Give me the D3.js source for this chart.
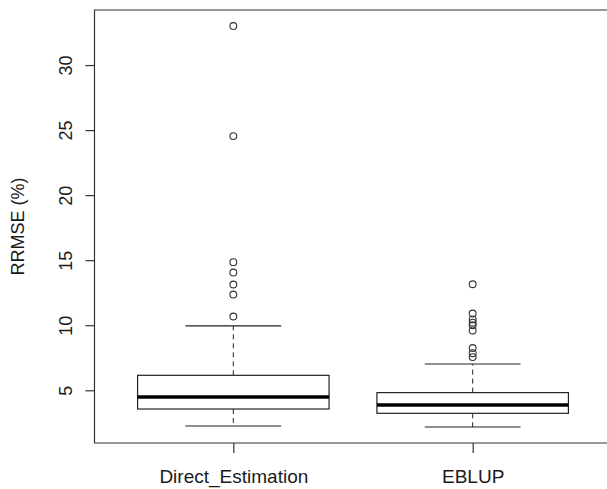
<!DOCTYPE html>
<html>
<head>
<meta charset="utf-8">
<script src="https://cdn.jsdelivr.net/npm/d3@7"></script>
<style>
  html, body { margin: 0; padding: 0; background: #fff; overflow: hidden; }
  svg { display: block; }
  svg text { font-family: "Liberation Sans", Arial, sans-serif; fill: #1a1a1a; }
</style>
</head>
<body>
<div id="chart"></div>
<script>
// groups shown on the x axis
var categories = ["Direct_Estimation", "EBLUP"];
// five-number summaries (whisker low, Q1, median, Q3, whisker high)
var whiskerLow  = [2.25, 2.18];
var q1          = [3.56, 3.23];
var median      = [4.48, 3.87];
var q3          = [6.15, 4.82];
var whiskerHigh = [9.95, 7.02];
// points beyond the whiskers
var outliersDirect = [10.67, 12.36, 13.13, 14.05, 14.85, 24.54, 33.0];
var outliersEblup  = [7.55, 7.85, 8.25, 9.6, 10.0, 10.2, 10.45, 10.9, 13.15];
var yTicks = [5, 10, 15, 20, 25, 30];
var yLabel = "RRMSE (%)";

var W = 607, H = 489;
var svg = d3.select("#chart").append("svg")
    .attr("width", W)
    .attr("height", H);

var allVals = whiskerLow.concat(whiskerHigh, outliersDirect, outliersEblup);
var lo = d3.min(allVals), hi = d3.max(allVals), pad = (hi - lo) * 0.04;

// R style: 4% extension of the data range
var y = d3.scaleLinear()
    .domain([lo - pad, hi + pad])
    .range([443, 10]);

var x = d3.scaleLinear()
    .domain([0.42, 2.58])
    .range([94.5, 611.5]);

// frame: the right side lies outside the picture, so only three sides are drawn
var x0 = x(0.42), x1 = x(2.58), yt = y.range()[1], yb = y.range()[0];
svg.append("path")
    .attr("d", "M" + x1 + "," + yt + "H" + x0 + "V" + yb + "H" + x1)
    .attr("fill", "none")
    .attr("stroke", "#333")
    .attr("stroke-width", 1.2);

// y axis
var yAxis = svg.append("g")
    .attr("transform", "translate(" + x0 + ",0)")
    .call(d3.axisLeft(y).tickValues(yTicks).tickSize(9).tickFormat(d3.format("d")));
yAxis.select(".domain").remove();
yAxis.selectAll("line").attr("stroke", "#333").attr("stroke-width", 1.2);
yAxis.selectAll("text")
    .attr("transform", "rotate(-90)")
    .attr("x", 0)
    .attr("y", -23)
    .attr("dy", 0)
    .attr("text-anchor", "middle")
    .style("font-size", "18px")
    .attr("fill", "#1a1a1a");

// x axis
var xAxis = svg.append("g")
    .attr("transform", "translate(0," + yb + ")")
    .call(d3.axisBottom(x).tickValues([1, 2]).tickSize(10)
      .tickFormat(function(d) { return categories[d - 1]; }));
xAxis.select(".domain").remove();
xAxis.selectAll("line").attr("stroke", "#333").attr("stroke-width", 1.2);
xAxis.selectAll("text")
    .attr("y", 40)
    .attr("dy", 0)
    .style("font-size", "19px")
    .attr("fill", "#1a1a1a");

// y label
svg.append("text")
    .attr("transform", "rotate(-90)")
    .attr("x", -(yt + yb) / 2)
    .attr("y", 24)
    .attr("text-anchor", "middle")
    .style("font-size", "18px")
    .text(yLabel);

// boxes
var boxes = categories.map(function(c, i) {
  return {pos: i + 1, lo: whiskerLow[i], q1: q1[i], med: median[i], q3: q3[i], hi: whiskerHigh[i],
          out: i == 0 ? outliersDirect : outliersEblup};
});

var g = svg.selectAll(".box").data(boxes).enter().append("g").attr("class", "box");

// dashed whiskers
g.append("line")
    .attr("x1", function(d) { return x(d.pos); })
    .attr("x2", function(d) { return x(d.pos); })
    .attr("y1", function(d) { return y(d.q3); })
    .attr("y2", function(d) { return y(d.hi); })
    .attr("stroke", "#222").attr("stroke-dasharray", "5,4");
g.append("line")
    .attr("x1", function(d) { return x(d.pos); })
    .attr("x2", function(d) { return x(d.pos); })
    .attr("y1", function(d) { return y(d.q1); })
    .attr("y2", function(d) { return y(d.lo); })
    .attr("stroke", "#222").attr("stroke-dasharray", "5,4");

// staples
["lo", "hi"].forEach(function(k) {
  g.append("line")
    .attr("x1", function(d) { return x(d.pos - 0.2); })
    .attr("x2", function(d) { return x(d.pos + 0.2); })
    .attr("y1", function(d) { return y(d[k]); })
    .attr("y2", function(d) { return y(d[k]); })
    .attr("stroke", "#222").attr("stroke-width", 1.1);
});

g.append("rect")
    .attr("x", function(d) { return x(d.pos - 0.4); })
    .attr("width", function(d) { return x(d.pos + 0.4) - x(d.pos - 0.4); })
    .attr("y", function(d) { return y(d.q3); })
    .attr("height", function(d) { return y(d.q1) - y(d.q3); })
    .attr("fill", "#fff")
    .attr("stroke", "#222")
    .attr("stroke-width", 1.2);

g.append("line")
    .attr("x1", function(d) { return x(d.pos - 0.4); })
    .attr("x2", function(d) { return x(d.pos + 0.4); })
    .attr("y1", function(d) { return y(d.med); })
    .attr("y2", function(d) { return y(d.med); })
    .attr("stroke", "#000").attr("stroke-width", 3.5);

// outliers
g.selectAll("circle")
    .data(function(d) { return d.out.map(function(v) { return {pos: d.pos, v: v}; }); })
    .enter().append("circle")
    .attr("cx", function(d) { return x(d.pos); })
    .attr("cy", function(d) { return y(d.v); })
    .attr("r", 3.4)
    .attr("fill", "none")
    .attr("stroke", "#333")
    .attr("stroke-width", 1.1);
</script>
</body>
</html>
